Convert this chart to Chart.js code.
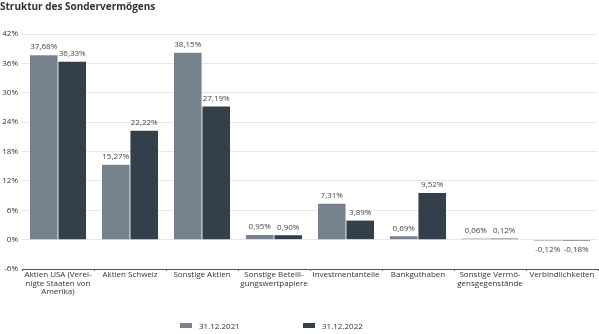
<!DOCTYPE html>
<html lang="de">
<head>
  <meta charset="UTF-8" />
  <title>Struktur des Sondervermögens</title>
  <script src="https://cdn.jsdelivr.net/npm/chart.js"></script>
  <style>
    body {
      margin: 0;
      background: #fff;
      font-family: 'Open Sans', Arial, sans-serif;
    }
    .wrap {
      position: relative;
      width: 599px;
      height: 334px;
    }
    .legend {
      position: absolute;
      top: 320px;
      font-size: 8px;
      color: #333;
      display: flex;
      align-items: center;
    }
    .legend i {
      display: inline-block;
      width: 12px;
      height: 5px;
      margin-right: 7px;
    }
  </style>
</head>
<body>
  <div class="wrap">
    <canvas id="structureChart" width="599" height="334"></canvas>
    <div id="legend"></div>
  </div>
  <script>
    const categories = [
      ['Aktien USA (Verei-', 'nigte Staaten von', 'Amerika)'],
      ['Aktien Schweiz'],
      ['Sonstige Aktien'],
      ['Sonstige Beteili-', 'gungswertpapiere'],
      ['Investmentanteile'],
      ['Bankguthaben'],
      ['Sonstige Vermö-', 'gensgegenstände'],
      ['Verbindlichkeiten']
    ];
    const values2021 = [37.68, 15.27, 38.15, 0.95, 7.31, 0.69, 0.06, -0.12];
    const values2022 = [36.33, 22.22, 27.19, 0.90, 3.89, 9.52, 0.12, -0.18];
    const seriesLabels = ['31.12.2021', '31.12.2022'];
    const seriesColors = ['#77828e', '#343f4c'];
    const yTicks = [-6, 0, 6, 12, 18, 24, 30, 36, 42];

    const fmt = v => v.toFixed(2).replace('.', ',') + '%';

    // value labels above (or below for negatives) each bar
    const valueLabels = {
      id: 'valueLabels',
      afterDatasetsDraw(chart) {
        const ctx = chart.ctx;
        ctx.save();
        ctx.font = '8px "Open Sans", Arial, sans-serif';
        ctx.fillStyle = '#444';
        ctx.textAlign = 'center';
        chart.data.datasets.forEach((ds, i) => {
          chart.getDatasetMeta(i).data.forEach((bar, j) => {
            const v = ds.data[j];
            if (v >= 0) {
              ctx.textBaseline = 'bottom';
              ctx.fillText(fmt(v), bar.x, bar.y - 4);
            } else {
              ctx.textBaseline = 'top';
              ctx.fillText(fmt(v), bar.x, bar.y + 5);
            }
          });
        });
        ctx.restore();
      }
    };

    const chart = new Chart(document.getElementById('structureChart'), {
      type: 'bar',
      data: {
        labels: categories,
        datasets: [
          { label: seriesLabels[0], data: values2021, backgroundColor: seriesColors[0] },
          { label: seriesLabels[1], data: values2022, backgroundColor: seriesColors[1] }
        ]
      },
      options: {
        responsive: false,
        animation: false,
        layout: { padding: { left: 0, right: 1, top: 0, bottom: 0 } },
        datasets: {
          bar: { categoryPercentage: 0.79, barPercentage: 0.97, minBarLength: 1 }
        },
        plugins: {
          legend: { display: false },
          tooltip: { enabled: false },
          title: {
            display: true,
            text: 'Struktur des Sondervermögens',
            align: 'start',
            color: '#333',
            font: { family: '"Open Sans", Arial, sans-serif', size: 10, weight: 'bold' },
            padding: { top: 1, bottom: 21 }
          }
        },
        scales: {
          x: {
            grid: { display: true, drawOnChartArea: false, tickLength: 2, color: '#666' },
            border: { color: '#555' },
            ticks: {
              color: '#333',
              padding: 0,
              maxRotation: 0,
              autoSkip: false,
              font: { family: '"Open Sans", Arial, sans-serif', size: 8, lineHeight: 1.05 }
            },
            afterFit(scale) { scale.height = 65; }
          },
          y: {
            min: -6,
            max: 42,
            afterBuildTicks(scale) { scale.ticks = yTicks.map(v => ({ value: v })); },
            grid: { color: '#e8e8e8', drawTicks: false },
            border: { display: false },
            ticks: {
              color: '#333',
              padding: 4,
              font: { family: '"Open Sans", Arial, sans-serif', size: 8 },
              callback: v => v + '%'
            },
            afterFit(scale) { scale.width = 22; }
          }
        }
      },
      plugins: [valueLabels]
    });

    // legend entries under the chart
    const legendPos = [180, 303];
    const legend = document.getElementById('legend');
    chart.data.datasets.forEach((ds, i) => {
      const item = document.createElement('div');
      item.className = 'legend';
      item.style.left = legendPos[i] + 'px';
      item.innerHTML = '<i style="background:' + ds.backgroundColor + '"></i>' + ds.label;
      legend.appendChild(item);
    });
  </script>
</body>
</html>
